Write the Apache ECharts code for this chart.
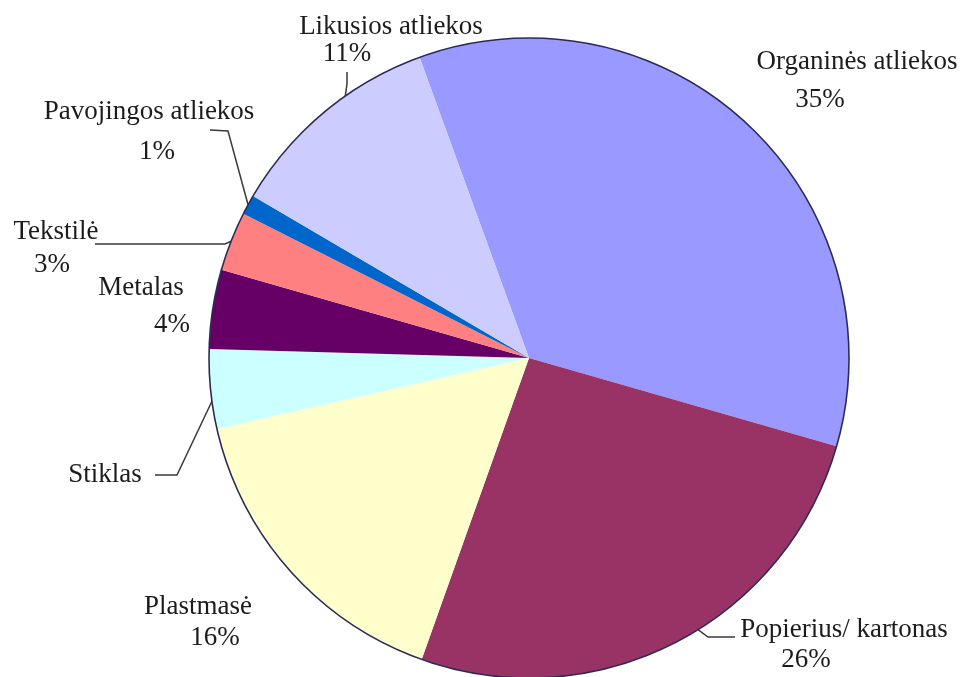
<!DOCTYPE html>
<html>
<head>
<meta charset="utf-8">
<script src="https://cdn.jsdelivr.net/npm/echarts@6/dist/echarts.min.js"></script>
<style>
  html, body { margin: 0; padding: 0; background: #ffffff; }
  #chart { width: 969px; height: 677px; }
</style>
</head>
<body>
<div id="chart"></div>
<script>
// Municipal waste composition, share of total (%)
const categories = ['Organinės atliekos', 'Popierius/ kartonas', 'Plastmasė', 'Stiklas',
                    'Metalas', 'Tekstilė', 'Pavojingos atliekos', 'Likusios atliekos'];
const shares = [35, 26, 16, 4, 4, 3, 1, 11];
const showShare = [true, true, true, false, true, true, true, true];
const sliceColors = ['#9999FF', '#993366', '#FFFFCC', '#CCFFFF', '#660066', '#FF8080', '#0066CC', '#CCCCFF'];

// Pie geometry
const CX = 529, CY = 358, R = 320, START = 110;
const FONT = '"Liberation Serif", "Times New Roman", serif';
const FONT_SIZE = 27;
const TEXT_COLOR = '#1c1c1c';

// Label placement: x/y = centre of the name line, dp = horizontal shift of the share line,
// gap = line spacing, line = leader line (t = position along the slice arc, knee & end points)
const labelSpots = [
  { x: 857, y: 62,  dp: -37, gap: 38, line: null },
  { x: 844, y: 630, dp: -38, gap: 30, line: { t: 0.45, knee: [708, 637], end: [735, 637] } },
  { x: 198, y: 607, dp: 17,  gap: 31, line: null },
  { x: 105, y: 475, dp: 0,   gap: 30, line: { t: 0.35, knee: [177, 475], end: [155, 475] } },
  { x: 141, y: 288, dp: 31,  gap: 37, line: null },
  { x: 56,  y: 232, dp: -4,  gap: 33, line: { t: 0.5, knee: [225, 244], end: [95, 244] } },
  { x: 149, y: 112, dp: 8,   gap: 40, line: { t: 0.5, knee: [228, 131], end: [210, 130] } },
  { x: 391, y: 27,  dp: -44, gap: 27, line: { t: 0.62, knee: [347, 84], end: [347, 72] } }
];

const total = shares.reduce((a, b) => a + b, 0);

// point on the outer arc at fraction t through slice i (clockwise from START)
function arcPoint(i, t) {
  let before = 0;
  for (let k = 0; k < i; k++) before += shares[k];
  const a0 = START - 360 * before / total;
  const a1 = a0 - 360 * shares[i] / total;
  const a = (a0 + t * (a1 - a0)) * Math.PI / 180;
  return [CX + R * Math.cos(a), CY - R * Math.sin(a)];
}

const rich = {};
labelSpots.forEach((s, i) => {
  rich['n' + i] = { fontFamily: FONT, fontSize: FONT_SIZE, color: TEXT_COLOR, lineHeight: s.gap };
  rich['p' + i] = {
    fontFamily: FONT, fontSize: FONT_SIZE, color: TEXT_COLOR, lineHeight: s.gap,
    padding: s.dp >= 0 ? [0, 0, 0, 2 * s.dp] : [0, -2 * s.dp, 0, 0]
  };
});

const pieData = categories.map((name, i) => ({
  name: name,
  value: shares[i],
  itemStyle: { color: sliceColors[i] },
  labelLine: { show: !!labelSpots[i].line }
}));

const chart = echarts.init(document.getElementById('chart'), null, { renderer: 'canvas' });

chart.setOption({
  backgroundColor: '#ffffff',
  animation: false,
  series: [
    {
      type: 'pie',
      center: [CX, CY],
      radius: R,
      startAngle: START,
      clockwise: true,
      avoidLabelOverlap: false,
      silent: true,
      data: pieData,
      itemStyle: { borderWidth: 0 },
      label: {
        show: true,
        position: 'outside',
        fontFamily: FONT,
        fontSize: FONT_SIZE,
        color: TEXT_COLOR,
        rich: rich,
        formatter: p => showShare[p.dataIndex]
          ? '{n' + p.dataIndex + '|' + p.name + '}\n{p' + p.dataIndex + '|' + p.value + '%}'
          : '{n' + p.dataIndex + '|' + p.name + '}'
      },
      labelLine: {
        show: true,
        lineStyle: { color: '#3a3a3a', width: 1.5 }
      },
      labelLayout: function (params) {
        const i = params.dataIndex;
        const s = labelSpots[i];
        const out = {
          x: s.x,
          y: showShare[i] ? s.y + s.gap / 2 : s.y,
          align: 'center',
          verticalAlign: 'middle'
        };
        if (s.line) {
          out.labelLinePoints = [arcPoint(i, s.line.t), s.line.knee.slice(), s.line.end.slice()];
        }
        return out;
      }
    },
    {
      // thin dark rim around the pie
      type: 'pie',
      center: [CX, CY],
      radius: R,
      silent: true,
      z: 3,
      data: [{ value: 1, name: 'rim' }],
      label: { show: false },
      labelLine: { show: false },
      itemStyle: { color: 'rgba(0,0,0,0)', borderColor: '#2b2b58', borderWidth: 1.6 },
      emphasis: { disabled: true }
    }
  ]
});
</script>
</body>
</html>
